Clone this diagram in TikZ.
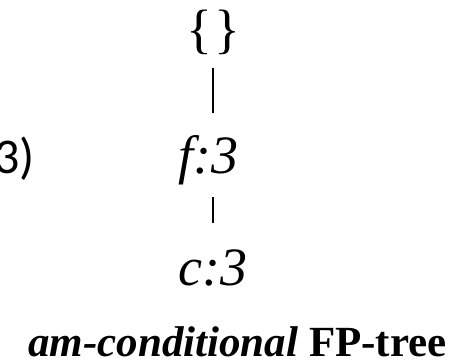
\documentclass[tikz,border=0pt]{standalone}
\usepackage{fontspec}
\setmainfont{Liberation Serif}
\newfontfamily\lblsans{Carlito}
\begin{document}
\begin{tikzpicture}[x=1pt,y=-1pt,
  treelabel/.style={font=\fontsize{54}{60}\selectfont\itshape, inner sep=0pt, anchor=base},
  edge/.style={line width=2.4pt}]
\useasboundingbox (0,0) rectangle (466,362);
\node[inner sep=0pt, anchor=base, font=\fontsize{54}{60}\selectfont] (root) at (213,47) {\{\hspace{2pt}\}};
\node[treelabel] (f) at (208,173) {f:3};
\node[treelabel] (c) at (213,285) {c:3};
\node[inner sep=0pt, anchor=base east, font=\lblsans\fontsize{50}{56}\selectfont] (side) at (35,173) {3)};
\node[inner sep=0pt, anchor=base, font=\fontsize{43}{48}\selectfont\bfseries] (title) at (237.5,356) {\textit{am-conditional} FP-tree};
\coordinate (r1) at (213,68);
\coordinate (f1) at (213,113);
\coordinate (f2) at (213,197);
\coordinate (c1) at (213,223);
\draw[edge] (r1) -- (f1);
\draw[edge] (f2) -- (c1);
\end{tikzpicture}
\end{document}
